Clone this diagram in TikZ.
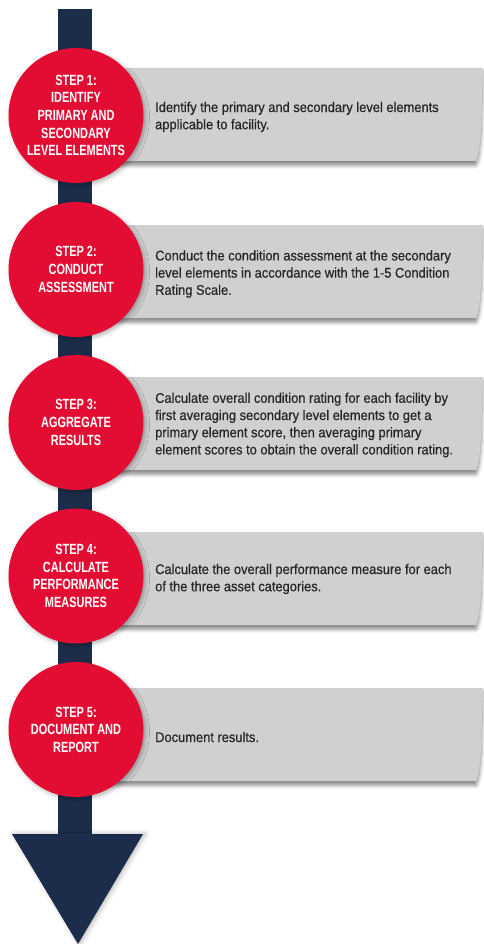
\documentclass[tikz,border=0pt]{standalone}
\usepackage{fontspec}
\setmainfont{Liberation Sans}
\newfontfamily\circlefont[FakeStretch=0.74]{Liberation Sans}
\newfontfamily\bannerfont[FakeStretch=0.92,FakeBold=0.6]{Liberation Sans}
\usepackage{tikz}
\usetikzlibrary{shadows.blur}

\definecolor{stepred}{HTML}{E30D33}
\definecolor{shaftblue}{HTML}{1B2D4B}
\definecolor{bannergrey}{HTML}{D0D0D0}
\definecolor{textgrey}{HTML}{262626}

\begin{document}
\begin{tikzpicture}[x=1pt,y=-1pt,
   step circle/.style={circle,fill=stepred,minimum size=135pt,inner sep=0pt,
      text=white,align=center,font=\circlefont\bfseries\fontsize{14.8}{17.6}\selectfont,
      blur shadow={shadow xshift=2pt,shadow yshift=-2pt,shadow blur radius=4pt,shadow opacity=30}},
   step text/.style={anchor=west,align=left,inner sep=0pt,text=textgrey,
      font=\bannerfont\fontsize{14}{17.2}\selectfont},
   banner/.style={fill=bannergrey,
      blur shadow={shadow xshift=0pt,shadow yshift=-4pt,shadow blur radius=4pt,shadow opacity=50}}]

  \useasboundingbox (0,0) rectangle (483,944);

  % shaft and head
  \fill[shaftblue] (58,9) rectangle (92,836);
  \fill[shaftblue,blur shadow={shadow xshift=2pt,shadow yshift=0pt,shadow blur radius=5pt,shadow opacity=30}]
    (12,834) -- (143,834) -- (78,944) -- cycle;

  % banners
  \foreach \c in {115,272,424,579,735}
    \fill[banner] (110,\c-47) -- (483,\c-47) -- (481,\c+15)
      .. controls (479,\c+38) .. (476,\c+46) -- (110,\c+46) -- cycle;

  % steps
  \node[step circle] (s1) at (76,115.5) {STEP 1:\\IDENTIFY\\PRIMARY AND\\SECONDARY\\LEVEL ELEMENTS};
  \node[step circle] (s2) at (76,269.5) {STEP 2:\\CONDUCT\\ASSESSMENT};
  \node[step circle] (s3) at (76,422.5) {STEP 3:\\AGGREGATE\\RESULTS};
  \node[step circle] (s4) at (76,576) {STEP 4:\\CALCULATE\\PERFORMANCE\\MEASURES};
  \node[step circle] (s5) at (76,729.5) {STEP 5:\\DOCUMENT AND\\REPORT};

  \node[step text] (t1) at (155,117) {Identify the primary and secondary level elements\\applicable to facility.};
  \node[step text] (t2) at (155,274) {Conduct the condition assessment at the secondary\\level elements in accordance with the 1-5 Condition\\Rating Scale.};
  \node[step text] (t3) at (155,425) {Calculate overall condition rating for each facility by\\first averaging secondary level elements to get a\\primary element score, then averaging primary\\element scores to obtain the overall condition rating.};
  \node[step text] (t4) at (155,579) {Calculate the overall performance measure for each\\of the three asset categories.};
  \node[step text] (t5) at (155,737) {Document results.};
\end{tikzpicture}
\end{document}
